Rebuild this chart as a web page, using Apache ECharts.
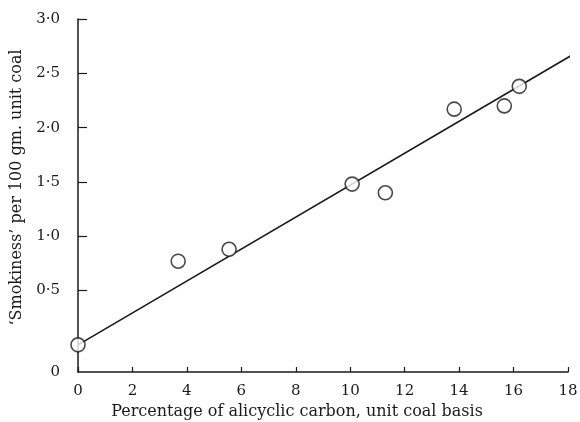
<!DOCTYPE html>
<html>
<head>
<meta charset="utf-8">
<script src="https://cdn.jsdelivr.net/npm/echarts@6/dist/echarts.min.js"></script>
<style>html,body{margin:0;padding:0;background:#fff}#c{width:580px;height:422px}</style>
</head>
<body>
<div id="c"></div>
<script>
// Observed points: % alicyclic carbon vs smokiness
var alicyclic = [0, 3.68, 5.55, 10.07, 11.29, 13.82, 15.66, 16.21];
var smokiness = [0.0, 0.77, 0.88, 1.48, 1.40, 2.17, 2.20, 2.38];
// Fitted straight line endpoints
var fitX = [0, 18.3];
var fitY = [0, 2.69];
// Tick values / labels
var xTicks = [0, 2, 4, 6, 8, 10, 12, 14, 16, 18];
var yTickValues = [0.5, 1.0, 1.5, 2.0, 2.5, 3.0];
var yLabelValues = [-0.25, 0.5, 1.0, 1.5, 2.0, 2.5, 3.0];
var yLabelTexts = ['0', '0\u00b75', '1\u00b70', '1\u00b75', '2\u00b70', '2\u00b75', '3\u00b70'];

var font = 'DejaVu Serif';
var ink = '#1a1a1a';

var chart = echarts.init(document.getElementById('c'));
chart.setOption({
  animation: false,
  backgroundColor: '#fff',
  grid: {left: 78, right: 12, top: 19, bottom: 50, containLabel: false, outerBoundsMode: 'none'},
  xAxis: {
    type: 'value', min: 0, max: 18, interval: 2,
    axisLine: {show: true, onZero: false, lineStyle: {color: ink, width: 1.5}},
    axisTick: {show: true, inside: true, length: 5, lineStyle: {color: ink, width: 1.2}},
    splitLine: {show: false},
    axisLabel: {color: ink, fontFamily: font, fontSize: 15, margin: 12,
      formatter: function (v) { return xTicks.indexOf(v) >= 0 ? String(v) : ''; }},
    name: 'Percentage of alicyclic carbon, unit coal basis',
    nameLocation: 'middle', nameGap: 30,
    nameTextStyle: {color: ink, fontFamily: font, fontSize: 16, padding: [0, 52, 0, 0]}
  },
  yAxis: {
    type: 'value', min: -0.25, max: 3.0,
    axisLine: {show: true, onZero: false, lineStyle: {color: ink, width: 1.5}},
    axisTick: {show: true, inside: true, length: 9, customValues: yTickValues,
      lineStyle: {color: ink, width: 1.2}},
    splitLine: {show: false},
    axisLabel: {color: ink, fontFamily: font, fontSize: 15, margin: 18,
      customValues: yLabelValues,
      formatter: function (v) {
        for (var i = 0; i < yLabelValues.length; i++) {
          if (Math.abs(yLabelValues[i] - v) < 1e-6) return yLabelTexts[i];
        }
        return '';
      }},
    name: '\u2018Smokiness\u2019 per 100 gm. unit coal',
    nameLocation: 'middle', nameGap: 49, nameRotate: 90,
    nameTextStyle: {color: ink, fontFamily: font, fontSize: 16, padding: [0, 0, 0, 16]}
  },
  series: [
    {
      type: 'line',
      data: fitX.map(function (x, i) { return [x, fitY[i]]; }),
      symbol: 'none', clip: false,
      lineStyle: {color: ink, width: 1.6},
      z: 2
    },
    {
      type: 'scatter',
      data: alicyclic.map(function (x, i) { return [x, smokiness[i]]; }),
      symbol: 'circle', symbolSize: 14,
      itemStyle: {color: '#fff', borderColor: ink, borderWidth: 1.6},
      clip: false,
      z: 3
    }
  ]
});
</script>
</body>
</html>
